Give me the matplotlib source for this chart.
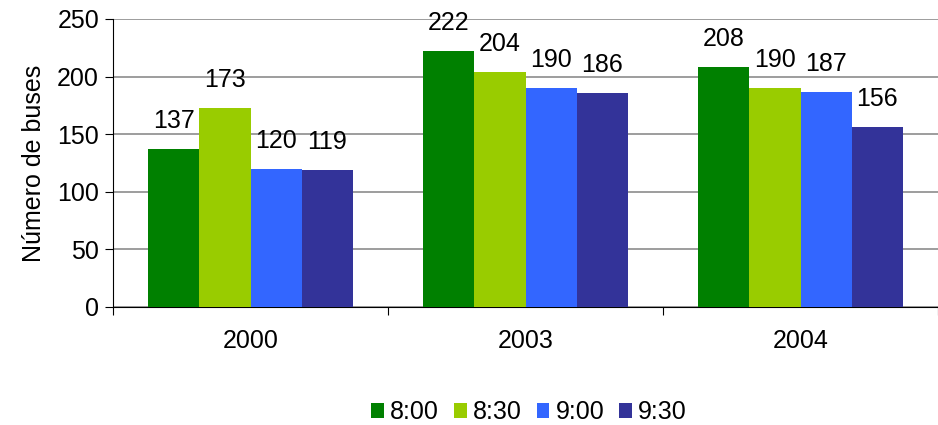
import matplotlib
matplotlib.use("Agg")
import matplotlib.pyplot as plt
import numpy as np

years = ["2000", "2003", "2004"]
times = ["8:00", "8:30", "9:00", "9:30"]
v_800 = [137, 222, 208]
v_830 = [173, 204, 190]
v_900 = [120, 190, 187]
v_930 = [119, 186, 156]
series = [v_800, v_830, v_900, v_930]
colors = ["#008000", "#99CC00", "#3366FF", "#333399"]

plt.rcParams["font.family"] = ["Liberation Sans", "DejaVu Sans"]
fs = 18

fig = plt.figure(figsize=(9.38, 4.25), dpi=100)
ax = fig.add_axes([113 / 938, 1 - 307 / 425, 1 - 113 / 938, (307 - 19) / 425])

x = np.arange(len(years))
bw = 0.186
offsets = (np.arange(len(times)) - 1.5) * bw
for vals, off, col, lab in zip(series, offsets, colors, times):
    bars = ax.bar(x + off, vals, width=bw, color=col, label=lab, zorder=3)
    for b, v in zip(bars, vals):
        ax.annotate(str(v), (b.get_x() + b.get_width() / 2, v),
                    xytext=(0, 16), textcoords="offset pixels",
                    ha="center", va="bottom", fontsize=fs)

ax.set_xlim(-0.5, 2.5)
ax.set_ylim(0, 250)
ax.set_yticks(np.arange(0, 251, 50))
ax.yaxis.grid(True, color="#8c8c8c", linewidth=1.2, zorder=0)
ax.tick_params(axis="y", labelsize=fs, length=6, direction="out", color="black", pad=4)

ax.set_xticks(np.arange(-0.5, 2.6, 1.0))
ax.set_xticklabels([])
ax.tick_params(axis="x", which="major", length=6, direction="out")
ax.set_xticks(x, minor=True)
ax.set_xticklabels(years, minor=True)
ax.tick_params(axis="x", which="minor", length=0, labelsize=fs, pad=16)

for s in ["top", "right"]:
    ax.spines[s].set_visible(False)
ax.spines["left"].set_color("black")
ax.spines["bottom"].set_color("black")

ax.set_ylabel("Número de buses", fontsize=fs, labelpad=8)

fig.legend(loc="center", bbox_to_anchor=(0.564, 0.03), ncol=4, frameon=False,
           fontsize=fs, handlelength=0.5, handleheight=0.5, handletextpad=0.25,
           columnspacing=0.6)

fig.savefig("out.png", dpi=100)
